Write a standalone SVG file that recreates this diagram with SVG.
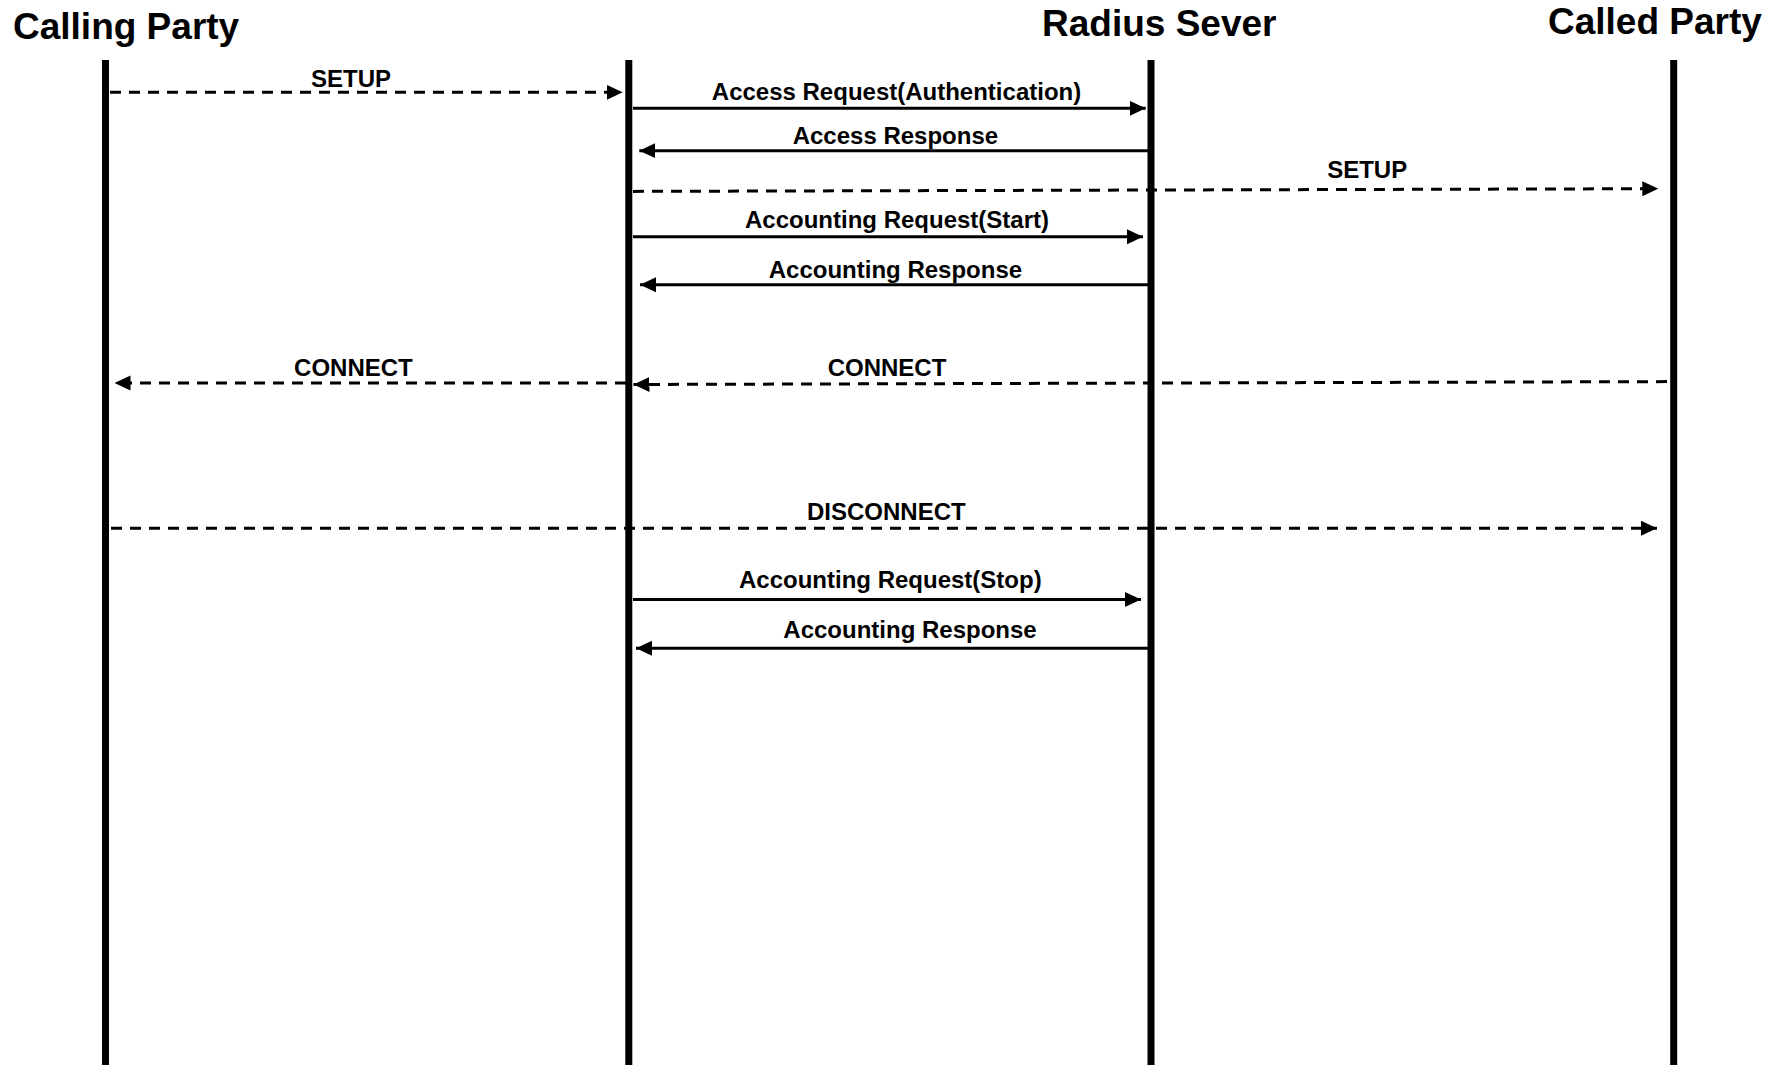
<svg xmlns="http://www.w3.org/2000/svg" width="1776" height="1065" viewBox="0 0 1776 1065">
<style>
  .title { font-family: "Liberation Sans", Arial, sans-serif; font-weight: bold; font-size: 37px; fill: #000; }
  .lbl { font-family: "Liberation Sans", Arial, sans-serif; font-weight: bold; font-size: 24px; fill: #000; text-anchor: middle; }
  .life { stroke: #000; stroke-width: 7; fill: none; }
  .msg { stroke: #000; stroke-width: 3; fill: none; marker-end: url(#arr); }
  .dash { stroke-dasharray: 11 8; }
</style>
<defs>
  <marker id="arr" markerUnits="userSpaceOnUse" markerWidth="16" markerHeight="16" refX="16" refY="7.5" orient="auto" viewBox="0 0 16 15">
    <path d="M0,0 L16,7.5 L0,15 Z" fill="#000"/>
  </marker>
</defs>
<rect width="1776" height="1065" fill="#fff"/>
<g id="calling-party">
  <text class="title" x="13" y="38.5">Calling Party</text>
  <line class="life" x1="105.5" y1="60" x2="105.5" y2="1065"/>
</g>
<g id="nas">
  <line class="life" x1="628.8" y1="60" x2="628.8" y2="1065"/>
</g>
<g id="radius-server">
  <text class="title" x="1042" y="36">Radius Sever</text>
  <line class="life" x1="1151" y1="60" x2="1151" y2="1065"/>
</g>
<g id="called-party">
  <text class="title" x="1548" y="34">Called Party</text>
  <line class="life" x1="1673.7" y1="60" x2="1673.7" y2="1065"/>
</g>
<g id="connectors">
  <line class="msg dash" x1="110" y1="92.3" x2="622.7" y2="92.3"/>
  <text class="lbl" x="351" y="87">SETUP</text>

  <line class="msg" x1="633" y1="108.3" x2="1145.7" y2="108.3"/>
  <text class="lbl" x="896.5" y="99.5">Access Request(Authentication)</text>

  <line class="msg" x1="1148" y1="150.7" x2="639.3" y2="150.7"/>
  <text class="lbl" x="895.4" y="143.5">Access Response</text>

  <line class="msg dash" x1="633" y1="191.4" x2="1658.3" y2="188.7"/>
  <text class="lbl" x="1367.2" y="178">SETUP</text>

  <line class="msg" x1="633" y1="236.7" x2="1143" y2="236.7"/>
  <text class="lbl" x="897" y="228">Accounting Request(Start)</text>

  <line class="msg" x1="1148" y1="284.7" x2="640" y2="284.7"/>
  <text class="lbl" x="895.4" y="278">Accounting Response</text>

  <line class="msg dash" x1="1667" y1="381.6" x2="633.5" y2="384.5"/>
  <text class="lbl" x="887" y="376">CONNECT</text>

  <line class="msg dash" x1="626" y1="383" x2="114.5" y2="383"/>
  <text class="lbl" x="353.4" y="376">CONNECT</text>

  <line class="msg dash" x1="111" y1="528.3" x2="1657" y2="528.3"/>
  <text class="lbl" x="886.3" y="520">DISCONNECT</text>

  <line class="msg" x1="633" y1="599.5" x2="1141" y2="599.5"/>
  <text class="lbl" x="890.3" y="588">Accounting Request(Stop)</text>

  <line class="msg" x1="1148" y1="648.3" x2="636" y2="648.3"/>
  <text class="lbl" x="910" y="637.5">Accounting Response</text>
</g>
</svg>
